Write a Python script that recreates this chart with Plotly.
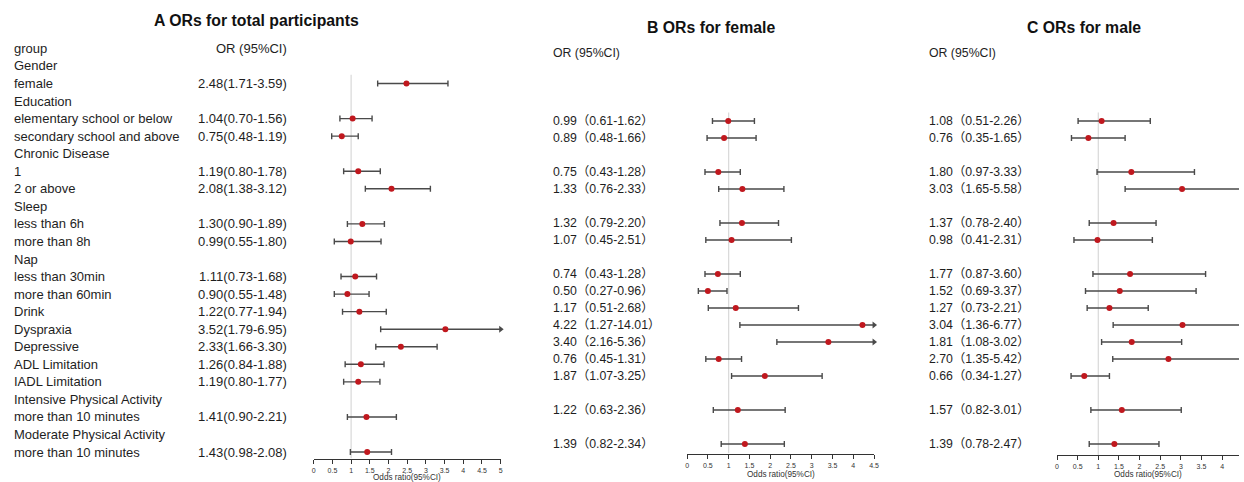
import plotly.graph_objects as go

# ---------------- data ----------------
row_labels = ["group", "Gender", "female", "Education", "elementary school or below",
              "secondary school and above", "Chronic Disease", "1", "2 or above", "Sleep",
              "less than 6h", "more than 8h", "Nap", "less than 30min", "more than 60min",
              "Drink", "Dyspraxia", "Depressive", "ADL Limitation", "IADL Limitation",
              "Intensive Physical Activity", "more than 10 minutes",
              "Moderate Physical Activity", "more than 10 minutes"]

total_rows = [2, 4, 5, 7, 8, 10, 11, 13, 14, 15, 16, 17, 18, 19, 21, 23]
total_or = [2.48, 1.04, 0.75, 1.19, 2.08, 1.30, 0.99, 1.11, 0.90, 1.22, 3.52, 2.33, 1.26, 1.19, 1.41, 1.43]
total_lo = [1.71, 0.70, 0.48, 0.80, 1.38, 0.90, 0.55, 0.73, 0.55, 0.77, 1.79, 1.66, 0.84, 0.80, 0.90, 0.98]
total_hi = [3.59, 1.56, 1.19, 1.78, 3.12, 1.89, 1.80, 1.68, 1.48, 1.94, 6.95, 3.30, 1.88, 1.77, 2.21, 2.08]

sub_rows = [4, 5, 7, 8, 10, 11, 13, 14, 15, 16, 17, 18, 19, 21, 23]
female_or = [0.99, 0.89, 0.75, 1.33, 1.32, 1.07, 0.74, 0.50, 1.17, 4.22, 3.40, 0.76, 1.87, 1.22, 1.39]
female_lo = [0.61, 0.48, 0.43, 0.76, 0.79, 0.45, 0.43, 0.27, 0.51, 1.27, 2.16, 0.45, 1.07, 0.63, 0.82]
female_hi = [1.62, 1.66, 1.28, 2.33, 2.20, 2.51, 1.28, 0.96, 2.68, 14.01, 5.36, 1.31, 3.25, 2.36, 2.34]

male_or = [1.08, 0.76, 1.80, 3.03, 1.37, 0.98, 1.77, 1.52, 1.27, 3.04, 1.81, 2.70, 0.66, 1.57, 1.39]
male_lo = [0.51, 0.35, 0.97, 1.65, 0.78, 0.41, 0.87, 0.69, 0.73, 1.36, 1.08, 1.35, 0.34, 0.82, 0.78]
male_hi = [2.26, 1.65, 3.33, 5.58, 2.40, 2.31, 3.60, 3.37, 2.21, 6.77, 3.02, 5.42, 1.27, 3.01, 2.47]

ticks_a = [0, 0.5, 1, 1.5, 2, 2.5, 3, 3.5, 4, 4.5, 5]
ticks_b = [0, 0.5, 1, 1.5, 2, 2.5, 3, 3.5, 4, 4.5]
ticks_c = [0, 0.5, 1, 1.5, 2, 2.5, 3, 3.5, 4, 4.5]
tick_text_a = ["0", "0.5", "1", "1.5", "2", "2.5", "3", "3.5", "4", "4.5", "5"]
tick_text_b = ["0", "0.5", "1", "1.5", "2", "2.5", "3", "3.5", "4", "4.5"]
tick_text_c = ["0", "0.5", "1", "1.5", "2", "2.5", "3", "3.5", "4", "4.5"]

titles = ["A ORs for total participants", "B ORs for female", "C ORs for male"]
header_or = "OR (95%CI)"
axis_title = "Odds ratio(95%CI)"

# ---------------- layout (pixels) ----------------
W, H = 1244, 482
FONT = "Liberation Sans, Arial, Noto Sans CJK SC, sans-serif"
TXT = "#1e1e1e"
LINE = "#4a4a4a"
RED = "#c0181e"


def px(x):
    return x / W


def py(y):
    return 1 - y / H


panels = [
    dict(ax="", rows=total_rows, orv=total_or, lo=total_lo, hi=total_hi,
         xd=(313.5, 501.5), xr=(0, 5), y0=48.4, dy=17.55, axis_y=458.5,
         ticks=ticks_a, ticktext=tick_text_a, arrow_lim=5, first=2,
         title_xy=(256, 21), atitle_y=477.5, full=False, text_x=289, text_anchor="right",
         font=13),
    dict(ax="2", rows=sub_rows, orv=female_or, lo=female_lo, hi=female_hi,
         xd=(689, 877), xr=(0, 4.5), y0=53, dy=17.0, axis_y=453.5,
         ticks=ticks_b, ticktext=tick_text_b, arrow_lim=4.5, first=4,
         title_xy=(713, 27), atitle_y=474.5, full=True, text_x=552, text_anchor="left",
         font=12.3),
    dict(ax="3", rows=sub_rows, orv=male_or, lo=male_lo, hi=male_hi,
         xd=(1061, 1244), xr=(0, (1244 - 1061) / 41.5), y0=53, dy=17.0, axis_y=455,
         ticks=ticks_c, ticktext=tick_text_c, arrow_lim=4.5, first=4,
         title_xy=(1088, 27), atitle_y=474.5, full=True, text_x=930, text_anchor="left",
         font=12.3),
]

fig = go.Figure()
annotations = []
shapes = []
TOP = 35

for k, p in enumerate(panels):
    xa = "x" + p["ax"]
    ya = "y" + p["ax"]
    y_bot = (p["axis_y"] - p["y0"]) / p["dy"]
    y_top = (TOP - p["y0"]) / p["dy"]

    fig.update_layout(**{
        "xaxis" + p["ax"]: dict(domain=[px(p["xd"][0]), px(p["xd"][1])], range=list(p["xr"]),
                               anchor=ya, showgrid=False, zeroline=False, showline=True,
                               linecolor="#333", linewidth=1, ticks="outside", ticklen=4,
                               tickcolor="#333", tickwidth=1, tickvals=p["ticks"],
                               ticktext=p["ticktext"], ticklabelstandoff=1,
                               tickfont=dict(size=7, color="#333", family=FONT),
                               fixedrange=True),
        "yaxis" + p["ax"]: dict(domain=[py(p["axis_y"]), py(TOP)], range=[y_bot, y_top],
                               anchor=xa, visible=False, fixedrange=True),
    })

    # reference line at OR = 1
    shapes.append(dict(type="line", xref=xa, yref=ya, x0=1, x1=1,
                       y0=p["first"] - 0.5, y1=y_bot, line=dict(color="#d8d8d8", width=1.2),
                       layer="below"))

    # CI + point estimates
    fig.add_trace(go.Scatter(
        x=p["orv"], y=p["rows"], xaxis=xa, yaxis=ya, mode="markers",
        marker=dict(symbol="circle", size=6, color=RED),
        error_x=dict(type="data", symmetric=False,
                     array=[h - o for h, o in zip(p["hi"], p["orv"])],
                     arrayminus=[o - l for o, l in zip(p["orv"], p["lo"])],
                     color=LINE, thickness=1.4, width=3),
        showlegend=False, hoverinfo="skip"))

    # arrows for truncated intervals
    ar_rows = [r for r, h in zip(p["rows"], p["hi"]) if h > p["arrow_lim"]]
    if ar_rows and p["arrow_lim"] <= p["xr"][1]:
        fig.add_trace(go.Scatter(
            x=[p["arrow_lim"]] * len(ar_rows), y=ar_rows, xaxis=xa, yaxis=ya,
            mode="markers", marker=dict(symbol="triangle-right", size=6, color=LINE),
            cliponaxis=False, showlegend=False, hoverinfo="skip"))

    # OR text column
    for r, o, l, h in zip(p["rows"], p["orv"], p["lo"], p["hi"]):
        s = f"{o:.2f}（{l:.2f}-{h:.2f}）" if p["full"] else f"{o:.2f}({l:.2f}-{h:.2f})"
        annotations.append(dict(xref="paper", yref=ya, x=px(p["text_x"]), y=r, text=s,
                                showarrow=False, xanchor=p["text_anchor"], yanchor="middle",
                                font=dict(family=FONT, size=p["font"], color=TXT)))
    annotations.append(dict(xref="paper", yref=ya, x=px(p["text_x"]), y=0, text=header_or,
                            showarrow=False, xanchor=p["text_anchor"], yanchor="middle",
                            font=dict(family=FONT, size=p["font"], color=TXT)))

    # panel title
    annotations.append(dict(xref="paper", yref="paper", x=px(p["title_xy"][0]),
                            y=py(p["title_xy"][1]), text="<b>" + titles[k] + "</b>",
                            showarrow=False, xanchor="center", yanchor="middle",
                            font=dict(family=FONT, size=15.8, color="#111")))
    # axis title
    annotations.append(dict(xref=xa + " domain", yref="paper", x=0.5, y=py(p["atitle_y"]),
                            text=axis_title, showarrow=False, xanchor="center",
                            yanchor="middle",
                            font=dict(family=FONT, size=8.2, color="#333")))

# group labels (panel A)
for i, lab in enumerate(row_labels):
    annotations.append(dict(xref="paper", yref="y", x=px(10), y=i, text=lab, showarrow=False,
                            xanchor="left", yanchor="middle",
                            font=dict(family=FONT, size=13, color=TXT)))

fig.update_layout(width=W, height=H, margin=dict(l=0, r=0, t=0, b=0),
                  paper_bgcolor="white", plot_bgcolor="white",
                  annotations=annotations, shapes=shapes, showlegend=False)

fig.write_html("out.html", config={"displayModeBar": False},
               post_script="document.body.style.margin='0';document.body.style.overflow='hidden';")
